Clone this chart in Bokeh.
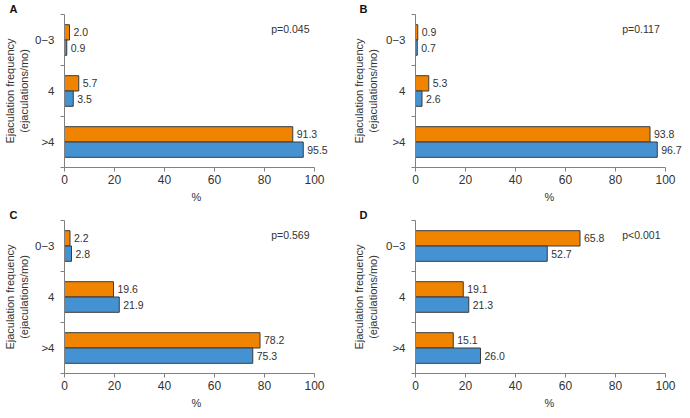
from bokeh.plotting import figure
from bokeh.layouts import column, row
from bokeh.models import Range1d, FixedTicker, Label, ColumnDataSource
from bokeh.core.properties import value
from bokeh.embed import file_html
from bokeh.resources import INLINE

categories = ["0\u22123", "4", ">4"]
x_ticks = [0, 20, 40, 60, 80, 100]

a_orange = [2.0, 5.7, 91.3]
a_blue = [0.9, 3.5, 95.5]
b_orange = [0.9, 5.3, 93.8]
b_blue = [0.7, 2.6, 96.7]
c_orange = [2.2, 19.6, 78.2]
c_blue = [2.8, 21.9, 75.3]
d_orange = [65.8, 19.1, 15.1]
d_blue = [52.7, 21.3, 26.0]

panel_letters = ["A", "B", "C", "D"]
p_values = ["p=0.045", "p=0.117", "p=0.569", "p<0.001"]

ORANGE = "#F08300"
BLUE = "#4592D3"
OUTLINE = "#3a3a3a"
AXIS = "#808080"
TEXT = "#333333"
FONT = "Liberation Sans"
PPU = 2.5  # pixels per percent


def make_panel(letter, orange, blue, ptext, bl, fw, br, bt, fh, bb,
               title_off, lab_standoff):
    n = len(categories)
    p = figure(frame_width=fw, frame_height=fh,
               x_range=Range1d(0, fw / PPU), y_range=Range1d(0, n),
               output_backend="svg", toolbar_location=None,
               min_border_left=bl, min_border_right=br,
               min_border_top=bt, min_border_bottom=bb)
    p.grid.visible = False
    p.outline_line_color = None
    p.title.text = letter
    p.title.align = "left"
    p.title.offset = title_off
    p.title.standoff = 0
    p.title.text_font_size = "11px"
    p.title.text_font_style = "bold"
    p.title.text_font = FONT
    p.title.text_color = "#111111"

    centers = [n - i - 0.5 for i in range(n)]
    src = ColumnDataSource(dict(
        yo=[c + 0.15 for c in centers], yb=[c - 0.15 for c in centers],
        orange=orange, blue=blue,
        lo=[f"{v:.1f}" for v in orange], lb=[f"{v:.1f}" for v in blue]))
    p.hbar(y="yo", left=0, right="orange", height=0.3, source=src,
           fill_color=ORANGE, line_color=OUTLINE, line_width=1)
    p.hbar(y="yb", left=0, right="blue", height=0.3, source=src,
           fill_color=BLUE, line_color=OUTLINE, line_width=1)
    for xc, yc, tc in (("orange", "yo", "lo"), ("blue", "yb", "lb")):
        p.text(x=xc, y=yc, text=tc, source=src, x_offset=4,
               text_baseline="middle", text_align="left",
               text_font_size="10.5px", text_color=TEXT,
               text_font=value(FONT))

    xa = p.xaxis[0]
    xa.ticker = FixedTicker(ticks=x_ticks)
    xa.bounds = (0, 100)
    xa.axis_label = "%"
    xa.axis_label_text_font_style = "normal"
    xa.axis_label_text_font_size = "11px"
    xa.axis_label_text_font = FONT
    xa.axis_label_text_color = TEXT
    xa.axis_label_standoff = 4
    xa.major_label_text_font_size = "12px"
    xa.major_label_text_font = FONT
    xa.major_label_text_color = TEXT
    xa.major_label_standoff = 3
    xa.major_tick_out = 4
    xa.major_tick_in = 0
    xa.minor_tick_out = 0
    xa.minor_tick_in = 0
    xa.axis_line_color = AXIS
    xa.major_tick_line_color = AXIS

    ya = p.yaxis[0]
    ya.ticker = FixedTicker(ticks=centers, minor_ticks=list(range(n + 1)))
    ya.major_label_overrides = {c: cat for c, cat in zip(centers, categories)}
    ya.major_label_text_font_size = "11.5px"
    ya.major_label_text_font = FONT
    ya.major_label_text_color = TEXT
    ya.major_label_standoff = 6
    ya.major_tick_out = 0
    ya.major_tick_in = 0
    ya.minor_tick_out = 4
    ya.minor_tick_in = 0
    ya.axis_line_color = AXIS
    ya.minor_tick_line_color = AXIS
    ya.axis_label = "Ejaculation frequency\n(ejaculations/mo)"
    ya.axis_label_text_font_style = "normal"
    ya.axis_label_text_font_size = "11px"
    ya.axis_label_text_font = FONT
    ya.axis_label_text_color = TEXT
    ya.axis_label_standoff = lab_standoff

    p.add_layout(Label(x=82.7, y=n - 0.28, text=ptext, text_baseline="middle",
                       text_font_size="10.5px", text_color=TEXT,
                       text_font=FONT))
    return p


pa = make_panel("A", a_orange, a_blue, p_values[0], 55, 264, 18, 13, 153, 34, -55, 2)
pb = make_panel("B", b_orange, b_blue, p_values[1], 69, 268, 0, 13, 153, 34, -56, 4)
pc = make_panel("C", c_orange, c_blue, p_values[2], 55, 264, 18, 15, 153, 32, -55, 2)
pd = make_panel("D", d_orange, d_blue, p_values[3], 69, 268, 0, 15, 153, 32, -56, 4)

layout = column(row(pa, pb), row(pc, pd))
open("out.html", "w").write(file_html(layout, INLINE))
